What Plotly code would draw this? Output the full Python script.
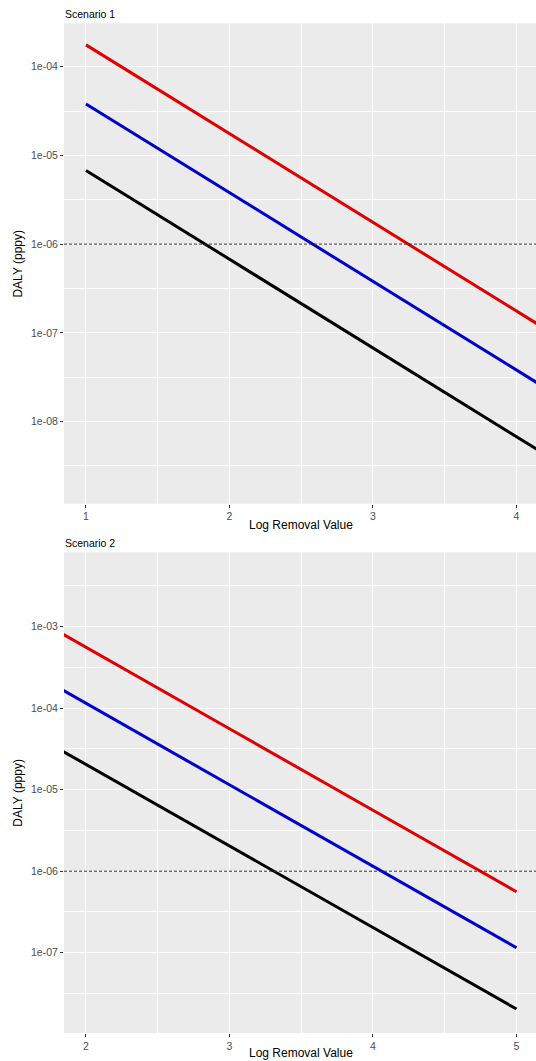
import plotly.graph_objects as go

# ---- data ----
lrv_s1 = [1, 2, 3, 4, 4.25]
red_s1 = [1.76e-4, 1.76e-5, 1.76e-6, 1.76e-7, 9.9e-8]
blue_s1 = [3.8e-5, 3.8e-6, 3.8e-7, 3.8e-8, 2.14e-8]
black_s1 = [6.76e-6, 6.76e-7, 6.76e-8, 6.76e-9, 3.8e-9]

lrv_s2 = [1.8, 2, 3, 4, 5]
red_s2 = [8.9e-4, 5.6e-4, 5.6e-5, 5.6e-6, 5.6e-7]
blue_s2 = [1.82e-4, 1.15e-4, 1.15e-5, 1.15e-6, 1.15e-7]
black_s2 = [3.24e-5, 2.04e-5, 2.04e-6, 2.04e-7, 2.04e-8]

threshold = 1e-6

s1_xticks = [1, 2, 3, 4]
s2_xticks = [2, 3, 4, 5]
s1_yticks = [1e-4, 1e-5, 1e-6, 1e-7, 1e-8]
s1_ylabels = ["1e-04", "1e-05", "1e-06", "1e-07", "1e-08"]
s2_yticks = [1e-3, 1e-4, 1e-5, 1e-6, 1e-7]
s2_ylabels = ["1e-03", "1e-04", "1e-05", "1e-06", "1e-07"]

panel_titles = ["Scenario 1", "Scenario 2"]
x_title = "Log Removal Value"
y_title = "DALY (pppy)"

colors = {"red": "#E00000", "blue": "#0000CC", "black": "#000000"}

W, H = 536, 1061
L = 64
FONT = "Liberation Sans, Arial, sans-serif"

fig = go.Figure()


def add_panel(xs, reds, blues, blacks, xa, ya):
    for ys, c in ((reds, "red"), (blues, "blue"), (blacks, "black")):
        fig.add_trace(go.Scatter(x=xs, y=ys, mode="lines", xaxis=xa, yaxis=ya,
                                 line=dict(color=colors[c], width=3),
                                 showlegend=False, hoverinfo="skip"))


add_panel(lrv_s1, red_s1, blue_s1, black_s1, "x", "y")
add_panel(lrv_s2, red_s2, blue_s2, black_s2, "x2", "y2")

tickfont = dict(family=FONT, size=10.5, color="#4D4D4D")

common_x = dict(showgrid=True, gridcolor="white", gridwidth=1.3, zeroline=False,
                ticks="outside", ticklen=3, tickcolor="#333333", tickwidth=1,
                tickfont=tickfont, showline=False,
                minor=dict(showgrid=True, gridcolor="white", gridwidth=0.6, dtick=0.5, tick0=0.5))


def ydom(top_px, bot_px):
    return [(H - bot_px) / H, (H - top_px) / H]


p1_top, p1_bot = 23.3, 503.8
p2_top, p2_bot = 552.3, 1033.0

fig.update_layout(
    width=W, height=H,
    margin=dict(l=L, r=0, t=0, b=0),
    paper_bgcolor="white",
    plot_bgcolor="#EBEBEB",
    font=dict(family=FONT, size=11, color="black"),
    xaxis=dict(common_x, range=[0.847, 4.136], tickvals=s1_xticks,
               ticktext=[str(v) for v in s1_xticks], anchor="y"),
    yaxis=dict(type="log", range=[-8.927, -3.511], domain=ydom(p1_top, p1_bot),
               tickvals=s1_yticks, ticktext=s1_ylabels,
               showgrid=True, gridcolor="white", gridwidth=1.3, zeroline=False,
               ticks="outside", ticklen=3, tickcolor="#333333", tickfont=tickfont,
               minor=dict(showgrid=True, gridcolor="white", gridwidth=0.6,
                          tickvals=[10 ** -3.5, 10 ** -4.5, 10 ** -5.5, 10 ** -6.5,
                                    10 ** -7.5, 10 ** -8.5]),
               anchor="x"),
    xaxis2=dict(common_x, range=[1.847, 5.136], tickvals=s2_xticks,
                ticktext=[str(v) for v in s2_xticks], anchor="y2"),
    yaxis2=dict(type="log", range=[-7.985, -2.087], domain=ydom(p2_top, p2_bot),
                tickvals=s2_yticks, ticktext=s2_ylabels,
                showgrid=True, gridcolor="white", gridwidth=1.3, zeroline=False,
                ticks="outside", ticklen=3, tickcolor="#333333", tickfont=tickfont,
                minor=dict(showgrid=True, gridcolor="white", gridwidth=0.6,
                           tickvals=[10 ** -2.5, 10 ** -3.5, 10 ** -4.5, 10 ** -5.5,
                                     10 ** -6.5, 10 ** -7.5]),
                anchor="x2"),
)

# threshold lines
for xr, yr in (("x domain", "y"), ("x2 domain", "y2")):
    fig.add_shape(type="line", xref=xr, yref=yr, x0=0, x1=1, y0=threshold, y1=threshold,
                  line=dict(color="#333333", width=1, dash="3px,2px"), layer="above")

pw = W - L


def px_x(px):
    return (px - L) / pw


def px_y(py):
    return (H - py) / H


ann = []
# panel titles
ann.append(dict(text=panel_titles[0], x=px_x(63), y=px_y(14), xanchor="left", yanchor="middle", size=10.5))
ann.append(dict(text=panel_titles[1], x=px_x(63), y=px_y(543), xanchor="left", yanchor="middle", size=10.5))
# x titles
ann.append(dict(text=x_title, x=px_x(301), y=px_y(525), xanchor="center", yanchor="middle", size=12))
ann.append(dict(text=x_title, x=px_x(301), y=px_y(1053), xanchor="center", yanchor="middle", size=12))
# y titles
ann.append(dict(text=y_title, x=px_x(18), y=px_y((p1_top + p1_bot) / 2), textangle=-90,
                xanchor="center", yanchor="middle", size=12))
ann.append(dict(text=y_title, x=px_x(18), y=px_y((p2_top + p2_bot) / 2), textangle=-90,
                xanchor="center", yanchor="middle", size=12))

for a in ann:
    sz = a.pop("size")
    a.update(xref="paper", yref="paper", showarrow=False,
             font=dict(family=FONT, size=sz, color="black"))
    fig.add_annotation(**a)

fig.write_html(
    "out.html",
    config={"displayModeBar": False},
    post_script="document.body.style.margin='0';document.body.style.overflow='hidden';",
)
